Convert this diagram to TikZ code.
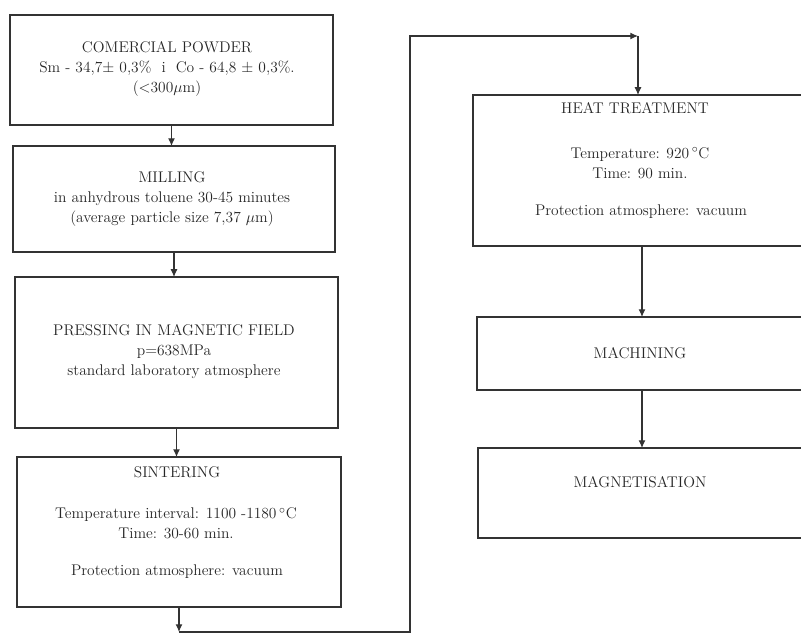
\documentclass[tikz,border=0pt]{standalone}
\usetikzlibrary{arrows.meta}
\definecolor{linec}{HTML}{333333}
\definecolor{textc}{HTML}{262626}
\begin{document}
\begin{tikzpicture}[x=0.025cm,y=-0.025cm,
  box/.style={draw=linec, line width=0.8pt, inner sep=0pt, outer sep=0pt},
  txt/.style={font=\fontsize{11}{14.2}\selectfont, text=textc, align=center, inner sep=0pt},
  conn/.style={draw=linec, line width=0.8pt},
  arr/.style={conn, -{Latex[length=5.5pt,width=5pt]}}]
\useasboundingbox (0,0) rectangle (801,637);
\clip (0,0) rectangle (801,637);
% left column
\node[box, minimum width=8.075cm, minimum height=2.75cm] (b1) at (171.5,70) {};
\node[box, minimum width=8.05cm, minimum height=2.65cm] (b2) at (174,199) {};
\node[box, minimum width=8.075cm, minimum height=3.775cm] (b3) at (176.5,352.5) {};
\node[box, minimum width=8.1cm, minimum height=3.75cm] (b4) at (179,532) {};
% right column
\node[box, minimum width=8.375cm, minimum height=3.775cm] (b5) at (640.5,170.5) {};
\node[box, minimum width=8.275cm, minimum height=1.825cm] (b6) at (642.5,353.5) {};
\node[box, minimum width=8.25cm, minimum height=2.25cm] (b7) at (643,493) {};
% texts
\node[txt] (t1) at (167,69) {COMERCIAL POWDER\\Sm - 34,7$\pm$ 0,3\% \ i \ Co - 64,8 $\pm$ 0,3\%.\\($<$300$\mu$m)};
\node[txt] (t2) at (172,199) {MILLING\\in anhydrous toluene 30-45 minutes\\(average particle size 7,37 $\mu$m)};
\node[txt] (t3) at (174,352) {PRESSING IN MAGNETIC FIELD\\p=638MPa\\standard laboratory atmosphere};
\node[txt] (t4a) at (177,472) {SINTERING};
\node[txt] (t4b) at (176,523.5) {Temperature interval: 1100 -1180$\,^{\circ}$C\\Time: 30-60 min.};
\node[txt] (t4c) at (177,572) {Protection atmosphere: vacuum};
\node[txt] (t5a) at (635,108) {HEAT TREATMENT};
\node[txt] (t5b) at (640,163) {Temperature: 920$\,^{\circ}$C\\Time: 90 min.};
\node[txt] (t5c) at (641,212) {Protection atmosphere: vacuum};
\node[txt] (t6) at (640,353) {MACHINING};
\node[txt] (t7) at (640,482) {MAGNETISATION};
% connectors
\draw[arr] (b1.south) -- (b1.south |- b2.north);
\draw[arr] (b2.south) -- (b2.south |- b3.north);
\draw[arr] (b3.south) -- (b3.south |- b4.north);
\coordinate (l1) at (179,632);
\coordinate (l2) at (410,632);
\coordinate (l3) at (410,36);
\coordinate (l4) at (638,36);
\draw[arr] (b4.south) -- (l1);
\draw[arr] (l1) -- (l2) -- (l3) -- (l4);
\draw[arr] (l4) -- (l4 |- b5.north);
\coordinate (m1) at (642,246);
\coordinate (m2) at (642,390);
\draw[arr] (m1) -- (m1 |- b6.north);
\draw[arr] (m2) -- (m2 |- b7.north);
\end{tikzpicture}
\end{document}
